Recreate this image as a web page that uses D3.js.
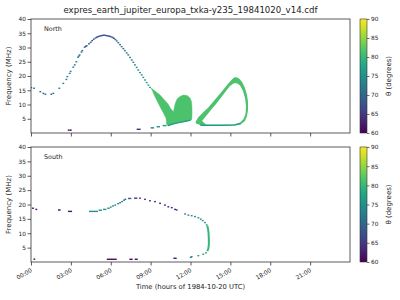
<!DOCTYPE html>
<html><head><meta charset="utf-8">
<script src="https://cdn.jsdelivr.net/npm/d3@7"></script>
<style>body{margin:0;background:#fff}svg{display:block}text{font-family:"DejaVu Sans",sans-serif;fill:#222}</style>
</head><body><svg id="c" width="400" height="300"></svg>
<script>
const titleText = "expres_earth_jupiter_europa_txka-y235_19841020_v14.cdf";
const xTickHours = [0,3,6,9,12,15,18,21];
const xTickLabels = ["00:00","03:00","06:00","09:00","12:00","15:00","18:00","21:00"];
const yTicks = [5,10,15,20,25,30,35,40];
const cbTicks = [60,65,70,75,80,85,90];

// North hemisphere: isolated points [hour, MHz, theta]
const northPts = [
 [0.02,15.9,72],[0.23,15.7,71],[0.70,14.5,70],[0.93,13.9,70],[1.08,13.6,70],[1.53,13.6,70],[1.68,13.9,71],
 [2.13,15.7,72],[2.43,17.4,73],[2.66,18.8,73],[2.73,19.8,73],[2.91,20.9,73],[2.98,21.6,73],[3.18,23.1,72],
 [3.29,23.9,72],[3.41,25.0,72],[3.54,26.6,72],[3.60,27.0,72],[3.66,27.4,71],[3.80,28.4,71],[3.86,28.9,71],
 [4.04,30.1,70],[4.12,30.4,70],[4.19,30.6,69],[4.36,31.3,69],[4.49,31.8,69],[4.60,32.4,68],[4.72,32.9,68],
 [4.85,33.3,68],[4.95,33.6,68],[5.04,33.8,68],[5.15,34.0,68],[5.25,34.1,68],[5.35,34.2,68],[5.45,34.3,68],
 [5.54,34.3,68],[5.65,34.2,68],[5.75,34.1,68],[5.85,34.0,68],[5.94,33.9,68],[6.05,33.7,68],[6.15,33.5,69],
 [6.24,33.2,69],[6.35,32.8,69],[6.45,32.3,70],[6.57,31.7,70],[6.70,31.0,70],[6.82,30.3,71],[6.95,29.6,71],
 [7.07,28.9,72],[7.20,28.1,72],[7.32,27.4,72],[7.45,26.5,73],[7.58,25.6,73],[7.70,24.8,73],[7.82,23.9,74],
 [7.95,23.0,74],[8.07,22.1,74],[8.20,21.2,75],[8.33,20.4,75],[8.45,19.5,75],[8.58,18.6,76],[8.70,17.7,76],
 [8.83,16.8,77],[8.95,16.0,77],
 [2.84,1.0,60],[2.99,1.0,60]
];
// North horizontal runs [hourStart, hourEnd, MHz, theta]
const northRuns = [
 [7.95,8.25,1.3,64],[9.0,9.25,1.8,72],[9.45,9.7,2.2,75],[9.9,10.2,2.6,77]
];
// North filled emission regions: outline [hour, MHz]
const northBlobTheta = 81.5;
const northBlobA = [
 [9.03,15.8],[9.33,14.7],[9.71,13.3],[10.01,11.75],[10.31,10.2],[10.53,8.4],[10.72,7.5],[10.84,10.2],
 [10.99,11.9],[11.21,12.8],[11.47,13.3],[11.74,13.2],[11.96,12.3],[12.08,10.9],[12.11,8.8],[12.11,5.6],
 [12.08,4.6],[11.59,4.0],[11.06,3.5],[10.61,3.0],[10.31,2.5],[10.20,3.2],[10.16,5.2],[10.01,6.6],
 [9.71,9.2],[9.33,12.7],[9.11,15.1]
];
const northLoopOuter = [
 [12.38,3.86],[12.57,5.4],[12.94,7.2],[13.32,8.9],[13.69,10.9],[14.07,13.0],[14.45,15.1],[14.75,16.8],
 [15.05,18.4],[15.27,19.5],[15.46,19.6],[15.65,19.1],[15.88,17.9],[16.1,15.8],[16.25,13.3],[16.33,10.9],
 [16.33,8.1],[16.25,6.0],[16.1,4.2],[15.8,3.2],[15.35,2.6],[14.22,2.45],[13.09,2.45],[12.72,2.8],[12.42,3.3]
];
const northLoopInner = [
 [12.87,4.2],[13.17,6.0],[13.54,8.1],[13.92,10.2],[14.30,12.5],[14.67,14.7],[14.97,16.5],[15.27,17.5],
 [15.5,17.5],[15.73,16.7],[15.95,14.7],[16.1,12.3],[16.18,9.5],[16.14,6.7],[15.99,4.9],[15.73,3.7],
 [15.27,3.1],[14.22,2.95],[13.17,3.0]
];
// lower edges with lower theta [hour, MHz]
const northEdgeA = [[10.3,2.6],[10.61,3.1],[11.06,3.6],[11.59,4.1],[12.0,4.5]];
const northEdgeLoop = [[12.72,2.75],[13.09,2.65],[14.22,2.65],[15.35,2.8],[15.8,3.3]];
const northEdgeTheta = 76;

// South hemisphere
const southPts = [
 [0.15,18.7,61],[0.40,18.3,61],[0.25,1.0,61],
 [6.00,19.1,74],[6.17,19.5,74],[6.34,19.8,74],[6.55,20.3,73],[6.70,20.6,73],[6.85,21.0,73],[7.00,21.5,72],
 [7.10,21.8,71],
 [8.20,22.2,64],[8.58,21.8,64],[8.95,21.3,64],[9.33,21.0,64],[9.71,20.4,63],[10.08,19.8,63],[10.33,19.2,63],
 [10.59,18.9,63],[10.84,18.3,63],[10.96,18.1,63],
 [11.59,16.7,74],[11.84,16.3,74],[12.09,16.1,74],[12.34,15.8,74],[12.59,15.4,75],[12.77,14.9,75],
 [12.92,14.4,76],[13.09,13.7,76],[13.22,12.9,77],
 [13.17,3.2,77],[12.96,2.7,76],[12.59,2.2,75],[12.09,1.85,74],[12.02,1.6,73]
];
const southRuns = [
 [2.03,2.23,18.1,61],[2.78,3.09,17.6,62],[4.36,5.04,17.6,75],[5.09,5.34,18.0,75],[5.42,5.67,18.3,75],
 [5.74,5.92,18.7,75],[7.30,7.55,22.1,69],[7.75,8.0,22.2,65],
 [5.70,6.45,0.95,61],[7.40,7.65,0.95,61],[7.80,8.03,0.95,61],[10.71,10.96,1.3,62]
];
const southBand = [[13.26,12.6],[13.32,11.5],[13.36,10.0],[13.38,8.0],[13.38,6.0],[13.34,4.6],[13.26,3.8]];
const southBandTheta = 80;

const svg = d3.select("#c");
const L = 31, R = 350;
const x = d3.scaleLinear().domain([0,24]).range([L,R]);
const yN = d3.scaleLinear().domain([0,40]).range([133,19]);
const yS = d3.scaleLinear().domain([0,40]).range([262,147]);
const color = d3.scaleSequential(d3.interpolateViridis).domain([60,90]);

svg.append("text").attr("x",190.5).attr("y",13).attr("text-anchor","middle")
  .attr("font-size",8.6).text(titleText);

function panel(y, pts, runs, label, showX){
  const g = svg.append("g");
  const top = y.range()[1], bot = y.range()[0];
  const clipId = "clip"+label;
  svg.append("clipPath").attr("id",clipId).append("rect")
    .attr("x",L).attr("y",top).attr("width",R-L).attr("height",bot-top);
  const plot = g.append("g").attr("clip-path",`url(#${clipId})`);
  plot.selectAll("rect.p").data(pts).join("rect").attr("class","p")
    .attr("x",d=>x(d[0])-0.9).attr("y",d=>y(d[1])-0.7).attr("width",1.8).attr("height",1.4)
    .attr("fill",d=>color(d[2]));
  plot.selectAll("rect.r").data(runs).join("rect").attr("class","r")
    .attr("x",d=>x(d[0])).attr("y",d=>y(d[2])-0.7).attr("width",d=>x(d[1])-x(d[0])).attr("height",1.4)
    .attr("fill",d=>color(d[3]));
  // axes
  const ya = d3.axisLeft(y).tickValues(yTicks).tickSize(3.5).tickSizeOuter(0).tickPadding(1.5);
  const gy = g.append("g").attr("transform",`translate(${L},0)`).call(ya);
  gy.select(".domain").remove();
  gy.selectAll("text").attr("font-size",5.8).attr("font-family","DejaVu Sans").attr("fill","#222");
  gy.selectAll("line").attr("stroke","#333").attr("stroke-width",0.8);
  const xa = d3.axisBottom(x).tickValues(xTickHours).tickSize(3.5).tickSizeOuter(0)
    .tickFormat((d,i)=> showX ? xTickLabels[i] : "");
  const gx = g.append("g").attr("transform",`translate(0,${bot})`).call(xa);
  gx.select(".domain").remove();
  gx.selectAll("line").attr("stroke","#333").attr("stroke-width",0.8);
  gx.selectAll("text").attr("font-size",5.8).attr("font-family","DejaVu Sans").attr("fill","#222")
    .attr("text-anchor","end").attr("dy",0).attr("y",0)
    .attr("transform","translate(1,9.5) rotate(-30)");
  g.append("rect").attr("x",L).attr("y",top).attr("width",R-L).attr("height",bot-top)
    .attr("fill","none").attr("stroke","#333").attr("stroke-width",0.8);
  g.append("text").attr("x",44).attr("y",top+12.3).attr("font-size",6.4).text(label);
  g.append("text").attr("transform",`translate(11,${(top+bot)/2}) rotate(-90)`)
    .attr("text-anchor","middle").attr("font-size",7).text("Frequency (MHz)");
  // colorbar
  const cx0 = 360, cx1 = 367;
  const gradId = "grad"+label;
  const grad = svg.append("defs").append("linearGradient").attr("id",gradId)
    .attr("x1",0).attr("y1",1).attr("x2",0).attr("y2",0);
  d3.range(0,1.0001,0.1).forEach(t=>grad.append("stop").attr("offset",t).attr("stop-color",d3.interpolateViridis(t)));
  const cy = d3.scaleLinear().domain([60,90]).range([bot,top]);
  g.append("rect").attr("x",cx0).attr("y",top).attr("width",cx1-cx0).attr("height",bot-top)
    .attr("fill",`url(#${gradId})`).attr("stroke","#333").attr("stroke-width",0.6);
  const ca = d3.axisRight(cy).tickValues(cbTicks).tickSize(2.5).tickSizeOuter(0).tickPadding(1.5);
  const gc = g.append("g").attr("transform",`translate(${cx1},0)`).call(ca);
  gc.select(".domain").remove();
  gc.selectAll("line").attr("stroke","#333").attr("stroke-width",0.7);
  gc.selectAll("text").attr("font-size",5.8).attr("font-family","DejaVu Sans").attr("fill","#222");
  g.append("text").attr("transform",`translate(391,${(top+bot)/2}) rotate(-90)`)
    .attr("text-anchor","middle").attr("font-size",7).text("θ (degrees)");
  return plot;
}

const line = (y)=> d3.line().x(d=>x(d[0])).y(d=>y(d[1]));

const pN = panel(yN, northPts, northRuns, "North", false);
pN.append("path").attr("d", line(yN)(northBlobA)+"Z").attr("fill",color(northBlobTheta))
  .attr("stroke",color(northBlobTheta)).attr("stroke-width",0.5);
pN.append("path").attr("d", line(yN)(northLoopOuter)+"Z"+line(yN)(northLoopInner)+"Z")
  .attr("fill",color(northBlobTheta)).attr("fill-rule","evenodd");
pN.append("path").attr("d", line(yN)(northEdgeA)).attr("fill","none")
  .attr("stroke",color(northEdgeTheta)).attr("stroke-width",1.2);
pN.append("path").attr("d", line(yN)(northEdgeLoop)).attr("fill","none")
  .attr("stroke",color(northEdgeTheta)).attr("stroke-width",1.2);

const pS = panel(yS, southPts, southRuns, "South", true);
pS.append("path").attr("d", line(yS)(southBand)).attr("fill","none")
  .attr("stroke",color(southBandTheta)).attr("stroke-width",2);

svg.append("text").attr("x",190.5).attr("y",289).attr("text-anchor","middle")
  .attr("font-size",6.8).text("Time (hours of 1984-10-20 UTC)");
</script></body></html>
